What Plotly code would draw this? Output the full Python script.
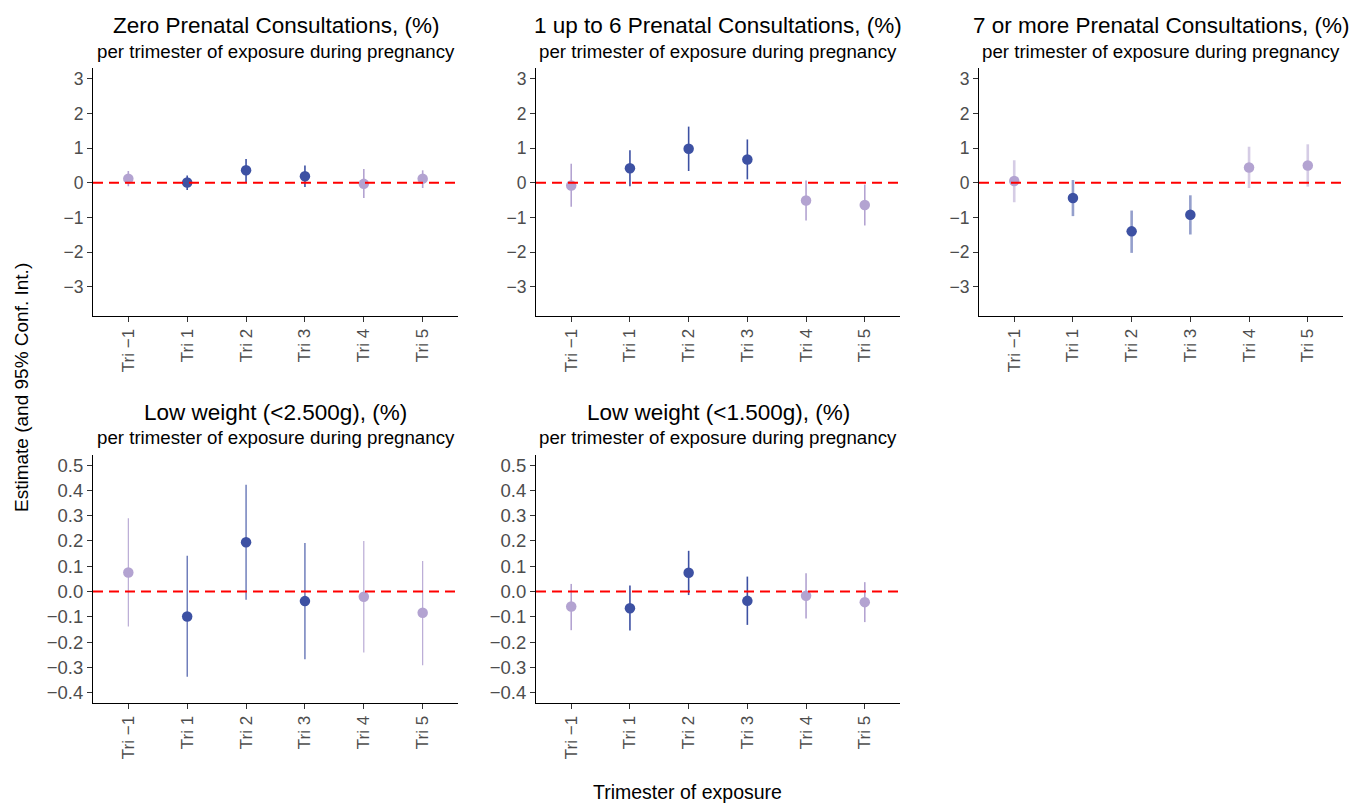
import plotly.graph_objects as go

categories = ["Tri \u22121", "Tri 1", "Tri 2", "Tri 3", "Tri 4", "Tri 5"]
highlight = [False, True, True, True, False, False]

titles = [
    "Zero Prenatal Consultations, (%)",
    "1 up to 6 Prenatal Consultations, (%)",
    "7 or more Prenatal Consultations, (%)",
    "Low weight (<2.500g), (%)",
    "Low weight (<1.500g), (%)",
]
subtitle = "per trimester of exposure during pregnancy"

est_zero = [0.12, 0.01, 0.36, 0.19, -0.03, 0.12]
lo_zero = [-0.10, -0.21, 0.00, -0.12, -0.44, -0.15]
hi_zero = [0.34, 0.21, 0.69, 0.50, 0.40, 0.36]

est_1to6 = [-0.08, 0.42, 0.98, 0.67, -0.51, -0.64]
lo_1to6 = [-0.69, -0.10, 0.34, 0.10, -1.09, -1.23]
hi_1to6 = [0.55, 0.94, 1.62, 1.25, 0.07, -0.05]

est_7plus = [0.05, -0.44, -1.40, -0.92, 0.44, 0.50]
lo_7plus = [-0.56, -0.96, -2.02, -1.49, -0.15, -0.11]
hi_7plus = [0.65, 0.08, -0.80, -0.36, 1.04, 1.11]

est_lw2500 = [0.075, -0.099, 0.195, -0.038, -0.021, -0.084]
lo_lw2500 = [-0.138, -0.337, -0.033, -0.268, -0.241, -0.292]
hi_lw2500 = [0.290, 0.141, 0.422, 0.192, 0.200, 0.121]

est_lw1500 = [-0.059, -0.066, 0.074, -0.037, -0.017, -0.042]
lo_lw1500 = [-0.153, -0.154, -0.014, -0.132, -0.107, -0.121]
hi_lw1500 = [0.030, 0.024, 0.161, 0.059, 0.072, 0.037]

upper_ticks = [-3, -2, -1, 0, 1, 2, 3]
lower_ticks = [-0.4, -0.3, -0.2, -0.1, 0.0, 0.1, 0.2, 0.3, 0.4, 0.5]

panels = [
    (est_zero, lo_zero, hi_zero),
    (est_1to6, lo_1to6, hi_1to6),
    (est_7plus, lo_7plus, hi_7plus),
    (est_lw2500, lo_lw2500, hi_lw2500),
    (est_lw1500, lo_lw1500, hi_lw1500),
]

DARK = "#3D51A3"
LIGHT = "#B3A3D1"
W, H = 1352, 803
FONT = "Liberation Sans, Arial, sans-serif"

# pixel boxes (left, right, top, bottom)
boxes = [
    (93, 458, 68, 316),
    (536, 900, 68, 316),
    (979, 1343, 68, 316),
    (93, 458, 455, 703),
    (536, 900, 455, 703),
]
ci_width = [1.6, 1.6, 2.6, 1.1, 1.6]
ci_opacity = [1.0, 1.0, 0.55, 1.0, 1.0]

fig = go.Figure()
layout = dict(
    width=W, height=H, margin=dict(l=0, r=0, t=0, b=0),
    plot_bgcolor="white", paper_bgcolor="white", showlegend=False,
    font=dict(family=FONT), shapes=[], annotations=[],
)

for i, ((est, lo, hi), (l, r, t, b)) in enumerate(zip(panels, boxes)):
    n = i + 1
    xa = "x" if n == 1 else f"x{n}"
    ya = "y" if n == 1 else f"y{n}"
    for flag, col in [(False, LIGHT), (True, DARK)]:
        idx = [k for k in range(len(categories)) if highlight[k] == flag]
        xs = [categories[k] for k in idx]
        lx, ly = [], []
        for k in idx:
            lx += [categories[k], categories[k], None]
            ly += [lo[k], hi[k], None]
        fig.add_trace(go.Scatter(
            x=lx, y=ly, mode="lines", xaxis=xa, yaxis=ya,
            line=dict(color=col, width=ci_width[i]), opacity=ci_opacity[i],
            hoverinfo="skip"))
        fig.add_trace(go.Scatter(
            x=xs, y=[est[k] for k in idx], mode="markers", xaxis=xa, yaxis=ya,
            marker=dict(color=col, size=10.5, line=dict(width=0))))
    upper = i < 3
    xkey = "xaxis" if n == 1 else f"xaxis{n}"
    ykey = "yaxis" if n == 1 else f"yaxis{n}"
    layout[xkey] = dict(
        domain=[l / W, r / W], anchor=ya, type="category",
        categoryorder="array", categoryarray=categories,
        range=[-0.6, 5.6], showgrid=False, zeroline=False,
        showline=True, linecolor="black", linewidth=1.1,
        ticks="outside", ticklen=5, tickcolor="#333333", tickwidth=1,
        tickangle=-90, tickfont=dict(size=17, color="#4D4D4D", family=FONT),
    )
    layout[ykey] = dict(
        domain=[1 - b / H, 1 - t / H], anchor=xa,
        range=[-3.84, 3.31] if upper else [-0.441, 0.54],
        tickmode="array", tickvals=upper_ticks if upper else lower_ticks,
        tickformat="d" if upper else ".1f",
        showgrid=False, zeroline=False,
        showline=True, linecolor="black", linewidth=1.1,
        ticks="outside", ticklen=5, tickcolor="#333333", tickwidth=1,
        tickfont=dict(size=17.5 if upper else 18.5, color="#4D4D4D", family=FONT),
    )
    layout["shapes"].append(dict(
        type="line", xref=f"{xa} domain", yref=ya, x0=0, x1=1, y0=0, y1=0,
        line=dict(color="red", width=2, dash="10px,6px")))
    cx = (l + r) / 2 / W
    layout["annotations"].append(dict(
        text=titles[i], x=cx, y=1 - (t - 43) / H, xref="paper", yref="paper",
        xanchor="center", yanchor="middle", showarrow=False,
        font=dict(size=22.5, color="black", family=FONT)))
    layout["annotations"].append(dict(
        text=subtitle, x=cx, y=1 - (t - 17) / H, xref="paper", yref="paper",
        xanchor="center", yanchor="middle", showarrow=False,
        font=dict(size=18.7, color="black", family=FONT)))

layout["annotations"].append(dict(
    text="Estimate (and 95% Conf. Int.)", x=22 / W, y=1 - 388 / H,
    xref="paper", yref="paper", xanchor="center", yanchor="middle",
    textangle=-90, showarrow=False, font=dict(size=19, color="black", family=FONT)))
layout["annotations"].append(dict(
    text="Trimester of exposure", x=687 / W, y=1 - 792 / H,
    xref="paper", yref="paper", xanchor="center", yanchor="middle",
    showarrow=False, font=dict(size=19.5, color="black", family=FONT)))

fig.update_layout(**layout)
fig.write_html(
    "out.html",
    config={"displayModeBar": False},
    post_script="document.body.style.margin='0px';document.body.style.overflow='hidden';",
)
